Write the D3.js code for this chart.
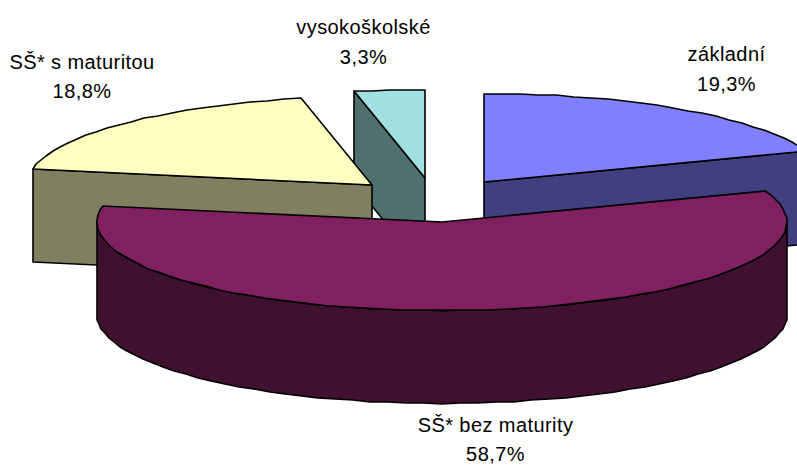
<!DOCTYPE html>
<html>
<head>
<meta charset="utf-8">
<script src="https://cdn.jsdelivr.net/npm/d3@7"></script>
<style>
html,body{margin:0;padding:0;background:#fff}
svg{display:block}
text{font-family:"Liberation Sans",Arial,sans-serif;font-size:20px;letter-spacing:.42px;fill:#000;text-anchor:middle}
</style>
</head>
<body>
<svg id="c" width="797" height="465"></svg>
<script>
// Data
const categories = ["základní", "SŠ* bez maturity", "SŠ* s maturitou", "vysokoškolské"];
const values = [19.3, 58.7, 18.8, 3.3];
const valueLabels = ["19,3%", "58,7%", "18,8%", "3,3%"];

// Styling and layout
const topColors = ["#8080ff", "#802060", "#ffffc0", "#a0e0e0"];
const wallColors = ["#404080", "#401030", "#808060", "#507070"];
const labelAnchors = [[726.5, 61], [495.5, 432], [82, 69], [363.5, 34]];
const labelGaps = [30, 29, 29, 30];
const W = 797, H = 465, CX = 434.4, CY = 200.2;
const RX = 345, RY = 88.5, DEPTH = 93, EXPLODE = 87;

const svg = d3.select("#c");
const arcs = d3.pie().sort(null).value(d => d)(values);
// horizontal & vertical scales of the tilted disc
const sx = d3.scaleLinear().domain([-1, 1]).range([-RX, RX]);
const sy = d3.scaleLinear().domain([-1, 1]).range([-RY, RY]);
const line = d3.line();

function centre(a) {
  const m = (a.startAngle + a.endAngle) / 2;
  const e = EXPLODE / RX;
  return [Math.round(CX + sx(e * Math.sin(m))), Math.round(CY - sy(e * Math.cos(m)))];
}
// rim points snap to whole pixels, giving the reference's slightly jagged outline
function rim(c, t, dz = 0) {
  return [Math.round(c[0] + sx(Math.sin(t))), Math.round(c[1] - sy(Math.cos(t))) + dz];
}
function rimPts(c, t0, t1, dz = 0) {
  const n = Math.max(2, Math.round(Math.abs(t1 - t0) / (3 * Math.PI / 180)));
  return d3.range(0, n + 1).map(i => rim(c, t0 + (t1 - t0) * i / n, dz));
}

const g = svg.append("g").attr("stroke", "#000").attr("stroke-width", 1.6)
  .attr("stroke-linejoin", "round");

// painter's order: back slices first, big front slice last
[3, 2, 0, 1].forEach(i => {
  const a = arcs[i], c = centre(a);
  const s = a.startAngle, e = a.endAngle;
  // flat cut wall facing the viewer
  if (i !== 1) {
    const p = i === 0 ? e : s;
    const r = rim(c, p);
    g.append("path")
      .attr("d", line([c, r, [r[0], r[1] + DEPTH], [c[0], c[1] + DEPTH]]) + "Z")
      .attr("fill", wallColors[i]);
  } else {
    // curved outer wall, front half only
    const t0 = Math.PI / 2, t1 = 3 * Math.PI / 2;
    const pts = rimPts(c, t0, t1).concat(rimPts(c, t1, t0, DEPTH));
    g.append("path").attr("d", line(pts) + "Z").attr("fill", wallColors[i]);
  }
  // top face
  const pts = [c].concat(rimPts(c, s, e));
  g.append("path").attr("d", line(pts) + "Z").attr("fill", topColors[i]);
});

// labels
const lab = svg.append("g");
categories.forEach((name, i) => {
  const [x, y] = labelAnchors[i];
  lab.append("text").attr("x", x).attr("y", y).text(name);
  lab.append("text").attr("x", x).attr("y", y + labelGaps[i]).text(valueLabels[i]);
});
</script>
</body>
</html>
